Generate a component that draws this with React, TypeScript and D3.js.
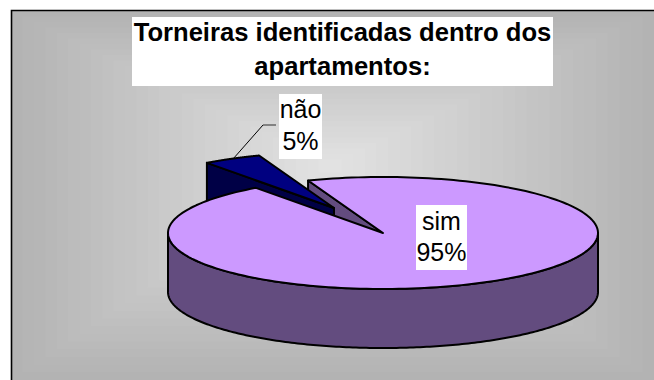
import React from "react";
import * as d3 from "d3";

const categories = ["sim", "não"];
// Slice sizes as measured on the drawn pie; the printed labels are below.
const values = [95.6, 4.4];
const percentLabels = ["95%", "5%"];
const titleLines = ["Torneiras identificadas dentro dos", "apartamentos:"];
const font = "'Liberation Sans', Arial, sans-serif";

const cx = 383, cy = 233, rx = 215, ry = 56, depth = 59;
const explodeX = -49, explodeY = -25;

const rot = (-20.4 * Math.PI) / 180;
const arcs = d3.pie<number>().sort(null).startAngle(rot).endAngle(rot + 2 * Math.PI)(values);

const px = (a: number, ox = 0, oy = 0): [number, number] => [
  cx + ox + rx * Math.sin(a),
  cy + oy - ry * Math.cos(a),
];

function topPath(a0: number, a1: number, ox = 0, oy = 0) {
  const pts = d3.range(0, 201).map((i) => px(a0 + ((a1 - a0) * i) / 200, ox, oy));
  return d3.line()([[cx + ox, cy + oy], ...pts]) + "Z";
}

function frontWall(a0: number, a1: number) {
  const n = 200;
  const pts = d3.range(0, n + 1).map((i) => px(a0 + ((a1 - a0) * i) / n));
  return d3.line()([...pts, ...pts.slice().reverse().map(([x, y]) => [x, y + depth] as [number, number])]) + "Z";
}

const bands = d3.range(0, 28);
const bandColor = d3.scaleLinear<string>().domain([0, 27]).range(["#b3b3b3", "#e2e2e2"]);
const bgX = 11, bgY = 11, bgW = 643, bgH = 369;
const bgCx = 330, bgCy = 165;

export default function App() {
  const [sim, nao] = arcs;
  const simStartPt = px(sim.startAngle);
  const naoA = px(nao.startAngle, explodeX, explodeY);
  const tip: [number, number] = [cx + explodeX, cy + explodeY];
  const stroke = { stroke: "#000", strokeWidth: 2, strokeLinejoin: "round" as const };
  return (
    <svg width={654} height={380} style={{ position: "fixed", left: 0, top: 0, background: "#fff" }}>
      <rect x={bgX} y={bgY} width={bgW} height={bgH} fill="#b3b3b3" />
      {bands.map((b) => {
        const t = b / 28;
        const x0 = bgX + (bgCx - bgX) * t, x1 = bgX + bgW - (bgX + bgW - bgCx) * t;
        const y0 = bgY + (bgCy - bgY) * t, y1 = bgY + bgH - (bgY + bgH - bgCy) * t;
        return <rect key={b} x={x0} y={y0} width={x1 - x0} height={y1 - y0} fill={bandColor(b)} />;
      })}
      <path d={`M11.5,380V10.5H654`} fill="none" stroke="#000" strokeWidth={1.6} />

      {/* cut face of the large slice */}
      <path
        d={d3.line()([[cx, cy], simStartPt, [simStartPt[0], simStartPt[1] + depth], [cx, cy + depth]]) + "Z"}
        fill="#634c7f"
        {...stroke}
      />
      {/* exploded slice */}
      <path
        d={d3.line()([naoA, tip, [tip[0], tip[1] + depth], [naoA[0], naoA[1] + depth]]) + "Z"}
        fill="#000046"
        {...stroke}
      />
      <path d={topPath(nao.startAngle, nao.endAngle, explodeX, explodeY)} fill="#000080" {...stroke} />

      {/* large slice */}
      <path d={frontWall(Math.PI / 2, (3 * Math.PI) / 2)} fill="#634c7f" {...stroke} />
      <path d={topPath(sim.startAngle, sim.endAngle)} fill="#cc99ff" {...stroke} />

      {/* leader */}
      <path d="M233,159L263,125" fill="none" stroke="#000" strokeWidth={1} />
      <path d="M263,125H276" fill="none" stroke="#666" strokeWidth={1.5} />

      {/* title */}
      <rect x={132} y={17} width={421} height={69} fill="#fff" />
      {titleLines.map((t, i) => (
        <text key={t} x={342.5} y={41 + i * 34} textAnchor="middle" fontFamily={font} fontWeight={700} fontSize={25.6} fill="#000">
          {t}
        </text>
      ))}

      {/* labels */}
      <rect x={279} y={94} width={43} height={65} fill="#fff" />
      <text x={300.5} y={118} textAnchor="middle" fontFamily={font} fontSize={25}>{categories[1]}</text>
      <text x={300.5} y={150} textAnchor="middle" fontFamily={font} fontSize={25}>{percentLabels[1]}</text>
      <rect x={416} y={205} width={51} height={65} fill="#fff" />
      <text x={441.5} y={230} textAnchor="middle" fontFamily={font} fontSize={25}>{categories[0]}</text>
      <text x={441.5} y={261} textAnchor="middle" fontFamily={font} fontSize={25}>{percentLabels[0]}</text>
    </svg>
  );
}
